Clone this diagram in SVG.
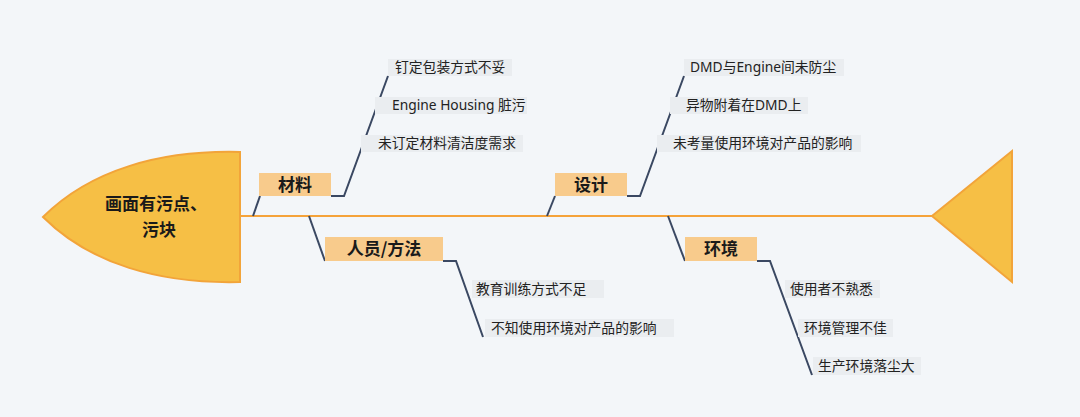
<svg xmlns="http://www.w3.org/2000/svg" width="1080" height="417" viewBox="0 0 1080 417">
<style>
.bg{fill:#f3f6f9}
.fish{fill:#f6bf45;stroke:#f2a43a;stroke-width:2}
.spine{stroke:#f5a33a;stroke-width:2;fill:none}
.conn{stroke:#3a4862;stroke-width:2;fill:none}
.cat{fill:#f8cb8c}
.leafbox{fill:#eaedf0}
.head{font-family:"Noto Sans CJK SC","Noto Sans",sans-serif;font-size:17px;font-weight:bold;fill:#1a1a1a;text-anchor:middle}
.catt{font-family:"Noto Sans CJK SC","Noto Sans",sans-serif;font-size:17px;font-weight:bold;fill:#1a1a1a;text-anchor:middle}
.leaf{font-family:"Noto Sans","Noto Sans CJK SC",sans-serif;font-size:13.8px;fill:#222}
</style>
<rect class="bg" x="0" y="0" width="1080" height="417"/>
<g id="connectors">
<line class="spine" x1="240" y1="216" x2="932" y2="216"/>
<polyline class="conn" points="253,216 260,196"/>
<polyline class="conn" points="331,196 344,196 388,76"/>
<polyline class="conn" points="547,216 555,196"/>
<polyline class="conn" points="627,196 640,196 684,76"/>
<polyline class="conn" points="309,216 325,261"/>
<polyline class="conn" points="443,261 456,261 483,337"/>
<polyline class="conn" points="668,216 685,261"/>
<polyline class="conn" points="757,261 770,261 812,375"/>
</g>
<g id="head">
<path class="fish" d="M240,152 C160,150 90,170 43,217 C90,264 160,284 240,282 Z"/>
<text class="head" x="156" y="210">画面有污点、</text>
<text class="head" x="159" y="236">污块</text>
</g>
<g id="tail">
<path class="fish" d="M932,216 L1012,151 L1012,282 Z"/>
</g>
<g id="cat-material">
<rect class="cat" x="259" y="173" width="72" height="23"/>
<text class="catt" x="295" y="191">材料</text>
</g>
<g id="cat-design">
<rect class="cat" x="555" y="173" width="72" height="23"/>
<text class="catt" x="591" y="191">设计</text>
</g>
<g id="cat-people">
<rect class="cat" x="325" y="237" width="118" height="24"/>
<text class="catt" x="384" y="255">人员/方法</text>
</g>
<g id="cat-env">
<rect class="cat" x="685" y="237" width="72" height="24"/>
<text class="catt" x="721" y="255">环境</text>
</g>
<g id="leaf-m1"><rect class="leafbox" x="388" y="59" width="124" height="17"/><text class="leaf" x="395" y="72">钉定包装方式不妥</text></g>
<g id="leaf-m2"><rect class="leafbox" x="375" y="97" width="152" height="17"/><text class="leaf" x="392" y="110">Engine Housing 脏污</text></g>
<g id="leaf-m3"><rect class="leafbox" x="361" y="135" width="162" height="17"/><text class="leaf" x="378" y="148">未订定材料清洁度需求</text></g>
<g id="leaf-d1"><rect class="leafbox" x="684" y="59" width="160" height="17"/><text class="leaf" x="690" y="72">DMD与Engine间未防尘</text></g>
<g id="leaf-d2"><rect class="leafbox" x="670" y="97" width="138" height="17"/><text class="leaf" x="686" y="110">异物附着在DMD上</text></g>
<g id="leaf-d3"><rect class="leafbox" x="657" y="135" width="204" height="17"/><text class="leaf" x="673" y="148">未考量使用环境对产品的影响</text></g>
<g id="leaf-p1"><rect class="leafbox" x="472" y="280" width="132" height="18"/><text class="leaf" x="476" y="294">教育训练方式不足</text></g>
<g id="leaf-p2"><rect class="leafbox" x="485" y="319" width="189" height="18"/><text class="leaf" x="491" y="333">不知使用环境对产品的影响</text></g>
<g id="leaf-e1"><rect class="leafbox" x="785" y="280" width="95" height="18"/><text class="leaf" x="790" y="294">使用者不熟悉</text></g>
<g id="leaf-e2"><rect class="leafbox" x="798" y="319" width="95" height="18"/><text class="leaf" x="804" y="333">环境管理不佳</text></g>
<g id="leaf-e3"><rect class="leafbox" x="813" y="357" width="108" height="18"/><text class="leaf" x="818" y="371">生产环境落尘大</text></g>
</svg>
